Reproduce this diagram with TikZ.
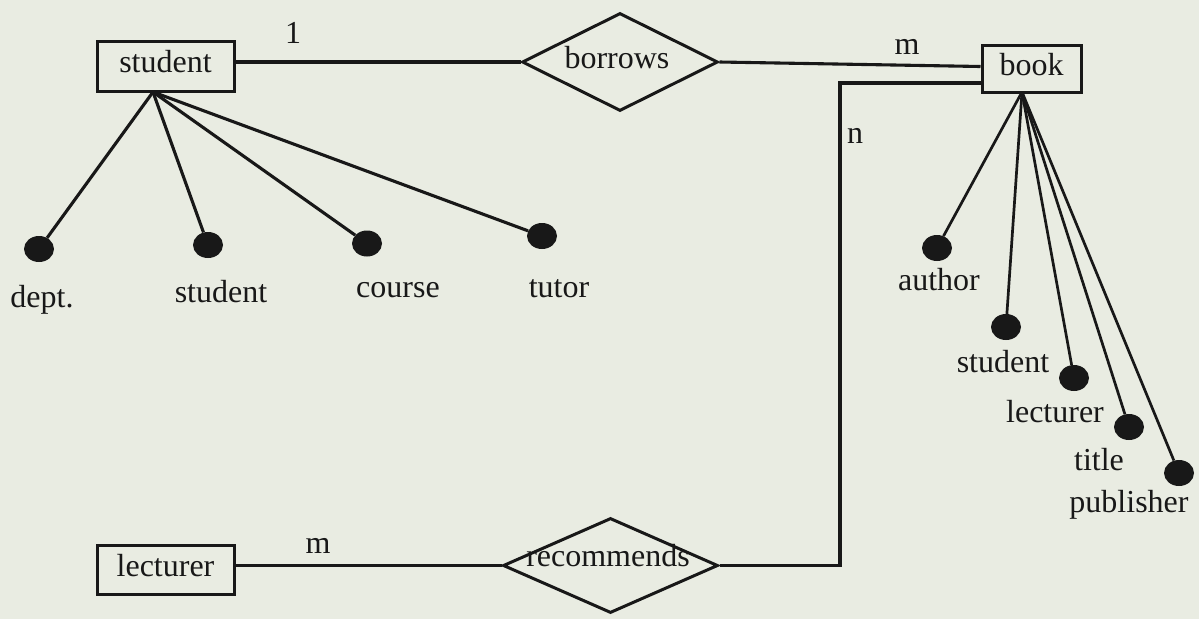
\documentclass[tikz,border=0pt]{standalone}
\usepackage{fontspec}
\setmainfont{Liberation Serif}
\usetikzlibrary{shapes.geometric}
\definecolor{paper}{RGB}{233,236,226}
\definecolor{ink}{RGB}{24,24,24}
\begin{document}
\begin{tikzpicture}[x=1pt,y=-1pt,
  every node/.style={font=\fontsize{32}{36}\selectfont, text=ink},
  entity/.style={draw=ink, line width=3pt, rectangle, inner sep=0pt, text height=20pt, text depth=7pt},
  rel/.style={draw=ink, line width=3pt, diamond, inner sep=0pt},
  attr/.style={fill=ink, ellipse, minimum width=30pt, minimum height=26pt, inner sep=0pt},
  lbl/.style={anchor=base, inner sep=0pt},
  conn/.style={draw=ink, line width=3.1pt},
]
\fill[paper] (0,0) rectangle (1199,619);
\useasboundingbox (0,0) rectangle (1199,619);

% entities
\node[entity, minimum width=137pt, minimum height=50pt] (student) at (165.5,66) {student};
\node[entity, minimum width=137pt, minimum height=49pt] (lecturer) at (165.5,569.5) {lecturer};
\node[entity, minimum width=99pt, minimum height=47pt] (book) at (1031.5,68.5) {book};

% relationships
\node[rel, minimum width=196pt, minimum height=98pt] (borrows) at (620,62) {};
\node[lbl] (borrowsT) at (617,68) {borrows};
\node[rel, minimum width=215pt, minimum height=95pt] (recommends) at (610.5,565.5) {};
\node[lbl] (recommendsT) at (608,566) {recommends};

% attribute dots
\node[attr] (a1) at (39,249) {};
\node[attr] (a2) at (208,245) {};
\node[attr] (a3) at (367,243.5) {};
\node[attr] (a4) at (542,236) {};
\node[attr] (b1) at (937,248) {};
\node[attr] (b2) at (1006,327) {};
\node[attr] (b3) at (1074,378) {};
\node[attr] (b4) at (1129,427) {};
\node[attr] (b5) at (1179,473) {};

% attribute labels
\node[lbl] (l1) at (42,307) {dept.};
\node[lbl] (l2) at (221,302) {student};
\node[lbl] (l3) at (398,297) {course};
\node[lbl] (l4) at (559,297) {tutor};
\node[lbl] (m1) at (939,290) {author};
\node[lbl] (m2) at (1003,372) {student};
\node[lbl] (m3) at (1055,422) {lecturer};
\node[lbl] (m4) at (1099,470) {title};
\node[lbl] (m5) at (1129,512) {publisher};

% cardinalities
\node[lbl] (c1) at (293,43) {1};
\node[lbl] (c2) at (907,54) {m};
\node[lbl] (c3) at (855,143) {n};
\node[lbl] (c4) at (318,553) {m};

% anchor points
\coordinate (sa) at (153,92);
\coordinate (ba) at (1022,92);
\coordinate (bend) at (840,83);

% connectors
\draw[conn] (student.east |- borrows.west) -- (borrows.west);
\draw[conn] (borrows.east) -- ([yshift=2pt]book.west);
\draw[conn] ([yshift=-14.5pt]book.west) -- (bend) |- (recommends.east);
\draw[conn] (lecturer.east |- recommends.west) -- (recommends.west);
\foreach \t in {a1,a2,a3,a4} \draw[conn] (sa) -- (\t);
\foreach \t in {b1,b2,b3,b4,b5} \draw[conn, line width=2.7pt] (ba) -- (\t);
\end{tikzpicture}
\end{document}
